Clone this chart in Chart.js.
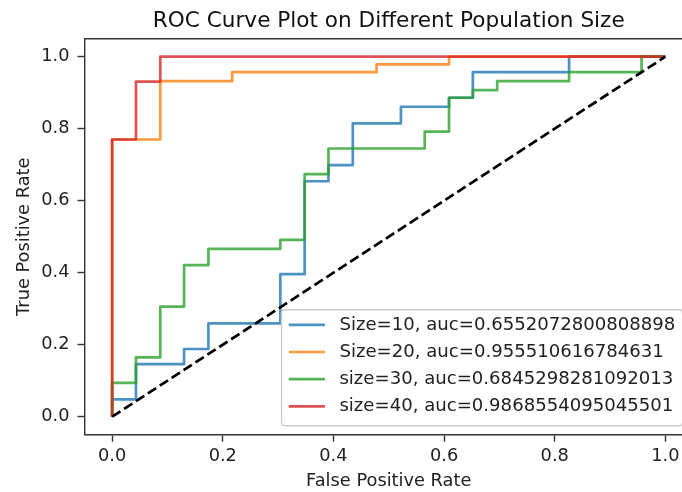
<!DOCTYPE html>
<html><head><meta charset="utf-8">
<script src="https://cdn.jsdelivr.net/npm/chart.js@4.4.1/dist/chart.umd.min.js"></script>
<style>
html,body{margin:0;padding:0;overflow:hidden;background:#fff;width:682px;height:492px}
#wrap{width:700px;height:492px;position:relative}
</style>
</head><body><div id="wrap"><canvas id="c" width="700" height="492"></canvas></div>
<script>
// ---- data ----
const titleText = "ROC Curve Plot on Different Population Size";
const xLabel = "False Positive Rate";
const yLabel = "True Positive Rate";
const xTicks = [0.0, 0.2, 0.4, 0.6, 0.8, 1.0];
const yTicks = [0.0, 0.2, 0.4, 0.6, 0.8, 1.0];
const seriesLabels = [
  "Size=10, auc=0.6552072800808898",
  "Size=20, auc=0.955510616784631",
  "size=30, auc=0.6845298281092013",
  "size=40, auc=0.9868554095045501"
];
const size10X = [0,0, 0.043,0.043, 0.130,0.130, 0.174,0.174, 0.304,0.304, 0.348,0.348, 0.391,0.391, 0.435,0.435, 0.522,0.522, 0.609,0.609, 0.652,0.652, 0.826,0.826, 1.0];
const size10Y = [0,0.048, 0.048,0.146, 0.146,0.188, 0.188,0.259, 0.259,0.396, 0.396,0.654, 0.654,0.699, 0.699,0.815, 0.815,0.861, 0.861,0.886, 0.886,0.957, 0.957,1.0, 1.0];
const size20X = [0,0, 0.087,0.087, 0.217,0.217, 0.478,0.478, 0.609,0.609, 1.0];
const size20Y = [0,0.770, 0.770,0.932, 0.932,0.957, 0.957,0.979, 0.979,1.0, 1.0];
const size30X = [0,0, 0.043,0.043, 0.087,0.087, 0.130,0.130, 0.174,0.174, 0.304,0.304, 0.348,0.348, 0.391,0.391, 0.565,0.565, 0.609,0.609, 0.652,0.652, 0.696,0.696, 0.826,0.826, 0.957,0.957, 1.0];
const size30Y = [0,0.094, 0.094,0.165, 0.165,0.306, 0.306,0.421, 0.421,0.466, 0.466,0.491, 0.491,0.674, 0.674,0.745, 0.745,0.792, 0.792,0.886, 0.886,0.907, 0.907,0.932, 0.932,0.957, 0.957,1.0, 1.0];
const size40X = [0,0, 0.043,0.043, 0.087,0.087, 1.0];
const size40Y = [0,0.770, 0.770,0.931, 0.931,1.0, 1.0];
const chanceX = [0, 1];
const chanceY = [0, 1];

// ---- styling ----
const FONT = "'DejaVu Sans', sans-serif";
const FS = 17.8;
const LFS = 18.1;
const colors = ['rgba(31,119,180,0.8)','rgba(255,127,14,0.8)','rgba(44,160,44,0.8)','rgba(214,39,40,0.8)'];
const zip = (xs, ys) => xs.map((x, i) => ({x: x, y: ys[i]}));
const seriesX = [size10X, size20X, size30X, size40X];
const seriesY = [size10Y, size20Y, size30Y, size40Y];

const datasets = seriesLabels.map((lab, i) => ({
  label: lab,
  data: zip(seriesX[i], seriesY[i]),
  borderColor: colors[i],
  backgroundColor: colors[i],
  borderWidth: 2.7,
  showLine: true,
  pointRadius: 0,
  pointHoverRadius: 0,
  fill: false,
  tension: 0,
  borderJoinStyle: 'round',
  order: 4 - i
}));
datasets.push({
  label: 'chance',
  data: zip(chanceX, chanceY),
  borderColor: '#000',
  borderWidth: 2.7,
  borderDash: [9.9, 4.3],
  showLine: true,
  pointRadius: 0,
  fill: false,
  order: 0
});

const framePlugin = {
  id: 'frameLegend',
  afterDraw(chart) {
    const ctx = chart.ctx, a = chart.chartArea;
    ctx.save();
    ctx.strokeStyle = '#333';
    ctx.lineWidth = 1.4;
    ctx.beginPath();
    ctx.moveTo(a.left, a.top);
    ctx.lineTo(a.right, a.top);
    ctx.stroke();
    // legend (matplotlib style, lower right)
    ctx.font = LFS + 'px ' + FONT;
    const pad = 0.4 * LFS, hl = 2 * LFS, htp = 0.8 * LFS;
    const tw = Math.max(...seriesLabels.map(l => ctx.measureText(l).width));
    const w = pad * 2 + hl + htp + tw;
    const h = 116, rowStep = 27.2;
    const right = a.right - 0.5 * FS - 1.5, bottom = a.bottom - 0.5 * FS;
    const left = right - w, top = bottom - h;
    const r = 0.2 * FS;
    ctx.beginPath();
    ctx.moveTo(left + r, top);
    ctx.lineTo(right - r, top);
    ctx.quadraticCurveTo(right, top, right, top + r);
    ctx.lineTo(right, bottom - r);
    ctx.quadraticCurveTo(right, bottom, right - r, bottom);
    ctx.lineTo(left + r, bottom);
    ctx.quadraticCurveTo(left, bottom, left, bottom - r);
    ctx.lineTo(left, top + r);
    ctx.quadraticCurveTo(left, top, left + r, top);
    ctx.closePath();
    ctx.fillStyle = 'rgba(255,255,255,0.8)';
    ctx.fill();
    ctx.strokeStyle = '#cccccc';
    ctx.lineWidth = 1.4;
    ctx.stroke();
    seriesLabels.forEach((lab, i) => {
      const y = top + 15 + i * rowStep;
      ctx.beginPath();
      ctx.strokeStyle = colors[i];
      ctx.lineWidth = 2.7;
      ctx.moveTo(left + pad, y);
      ctx.lineTo(left + pad + hl, y);
      ctx.stroke();
      ctx.fillStyle = '#222';
      ctx.textAlign = 'left';
      ctx.textBaseline = 'middle';
      ctx.fillText(lab, left + pad + hl + htp, y);
    });
    ctx.restore();
  }
};

const axisCommon = {
  type: 'linear',
  min: -0.05,
  max: 1.05,
  border: {display: true, color: '#333', width: 1.4},
  grid: {display: true, drawOnChartArea: false, drawTicks: true, tickLength: 7, tickWidth: 1.4, tickColor: '#333'}
};

new Chart(document.getElementById('c'), {
  type: 'scatter',
  data: {datasets: datasets},
  options: {
    responsive: false,
    animation: false,
    events: [],
    layout: {padding: {left: 0, right: 7, top: 0, bottom: 0}},
    plugins: {
      legend: {display: false},
      tooltip: {enabled: false},
      title: {
        display: true,
        fullSize: false,
        text: titleText,
        color: '#111',
        font: {family: FONT, size: 21.6, weight: 'normal', lineHeight: 1.2},
        padding: {top: 8, bottom: 4.8}
      }
    },
    scales: {
      x: Object.assign({}, axisCommon, {
        position: 'bottom',
        afterFit(s) { s.height = 57.3; },
        afterBuildTicks(s) { s.ticks = xTicks.map(v => ({value: v})); },
        ticks: {color: '#222', padding: 4, font: {family: FONT, size: FS}, callback: v => Number(v).toFixed(1)},
        title: {display: true, text: xLabel, color: '#222', font: {family: FONT, size: FS}, padding: {top: 0, bottom: 0}}
      }),
      y: Object.assign({}, axisCommon, {
        position: 'left',
        afterFit(s) { s.width = 84.5; },
        afterBuildTicks(s) { s.ticks = yTicks.map(v => ({value: v})); },
        ticks: {color: '#222', padding: 8, font: {family: FONT, size: FS}, callback: v => Number(v).toFixed(1)},
        title: {display: true, text: yLabel, color: '#222', font: {family: FONT, size: FS}, padding: {top: 13.5, bottom: 0}}
      })
    }
  },
  plugins: [framePlugin]
});
</script>
</body></html>
